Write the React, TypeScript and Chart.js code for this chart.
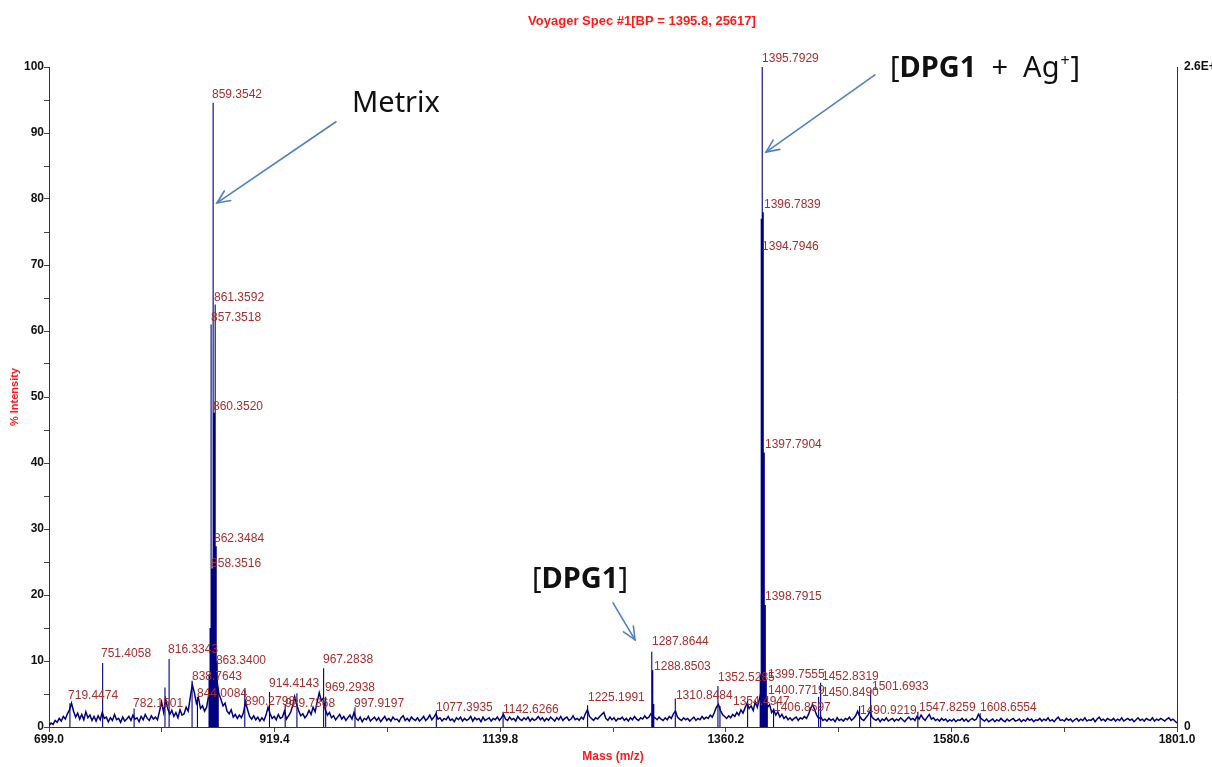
import React, { useEffect, useRef } from 'react';
import { Chart, registerables } from 'chart.js';

Chart.register(...registerables);

// ---------- axes ----------
const X_MIN = 699.0;
const X_MAX = 1801.0;
const xTickValues = [699.0, 809.2, 919.4, 1029.6, 1139.8, 1250.0, 1360.2, 1470.4, 1580.6, 1690.8, 1801.0];
const xTickLabels = ['699.0', '', '919.4', '', '1139.8', '', '1360.2', '', '1580.6', '', '1801.0'];
const yTickValues = [0, 5, 10, 15, 20, 25, 30, 35, 40, 45, 50, 55, 60, 65, 70, 75, 80, 85, 90, 95, 100];
const yTickLabels = ['0', '', '10', '', '20', '', '30', '', '40', '', '50', '', '60', '', '70', '', '80', '', '90', '', '100'];
const rightTickValues = [0, 100];
const rightTickLabels = ['0', '2.6E+4'];

const chartTitle = 'Voyager Spec #1[BP = 1395.8, 25617]';
const xTitle = 'Mass (m/z)';
const yTitle = '% Intensity';

// ---------- baseline noise (every 2 m/z from 699 to 1801) ----------
const baselineStart = 699;
const baselineStep = 2;
const baselineValues = [
  0.2, 0.6, 0.4, 1.0, 0.7, 1.3, 0.9, 1.6, 1.2, 2.0, 2.6, 3.6, 2.4, 1.5, 2.1, 1.2, 1.9, 1.1, 2.3, 1.4,
  1.8, 1.0, 1.6, 0.9, 1.7, 1.1, 2.2, 1.3, 1.5, 0.8, 1.4, 1.0, 1.9, 1.1, 1.3, 0.7, 1.5, 0.9, 1.2, 1.6,
  1.0, 1.8, 1.2, 1.4, 0.8, 1.6, 1.1, 1.9, 1.3, 1.0, 1.7, 1.2, 1.5, 1.1, 2.4, 3.8, 2.2, 4.2, 2.8, 1.9,
  2.5, 1.6, 2.2, 1.4, 2.6, 1.8, 2.0, 3.0, 2.4, 4.5, 6.4, 5.2, 3.6, 4.4, 2.8, 3.2, 2.4, 3.0, 4.8, 7.0,
  8.5, 6.5, 7.2, 5.0, 4.2, 3.2, 3.6, 2.4, 2.0, 2.6, 1.5, 1.9, 1.3, 1.8, 1.4, 2.2, 3.8, 2.6, 1.6, 1.2,
  1.7, 1.1, 1.5, 0.9, 1.4, 1.0, 1.8, 3.0, 2.0, 1.3, 1.6, 1.1, 1.9, 1.3, 1.5, 2.4, 1.2, 1.7, 2.2, 3.2,
  4.6, 3.4, 2.4, 1.7, 2.0, 1.4, 1.8, 2.5, 1.9, 3.0, 2.3, 3.8, 5.2, 4.0, 4.4, 2.6, 1.8, 2.2, 1.4, 1.7,
  1.1, 1.5, 1.9, 1.2, 1.6, 1.0, 1.4, 1.8, 1.2, 2.2, 1.3, 1.0, 1.5, 0.8, 1.3, 1.1, 1.6, 0.9, 1.2, 1.5,
  1.0, 1.4, 0.8, 1.2, 1.6, 1.0, 1.3, 0.9, 1.5, 1.1, 1.2, 0.8, 1.4, 1.7, 1.0, 1.3, 0.9, 1.5, 1.2, 1.0,
  1.4, 0.9, 1.2, 1.6, 1.0, 1.3, 1.8, 1.1, 1.5, 2.0, 1.2, 1.4, 0.9, 1.3, 1.1, 1.6, 1.0, 1.2, 0.8, 1.4,
  1.1, 1.5, 0.9, 1.3, 1.0, 1.2, 1.6, 0.9, 1.4, 1.1, 1.3, 0.8, 1.5, 1.0, 1.2, 1.4, 0.9, 1.3, 1.1, 1.5,
  1.0, 1.4, 1.9, 1.2, 1.0, 1.5, 1.1, 1.3, 0.9, 1.6, 1.2, 1.0, 1.4, 1.1, 1.5, 0.9, 1.3, 1.0, 1.2, 1.6,
  1.1, 1.4, 0.9, 1.3, 1.0, 1.5, 1.2, 0.9, 1.4, 1.1, 1.6, 1.0, 1.3, 1.5, 1.0, 1.2, 1.7, 1.1, 1.3, 1.0,
  1.5, 1.2, 2.0, 2.6, 1.6, 1.3, 1.0, 1.4, 1.2, 1.6, 1.9, 2.2, 1.3, 1.0, 1.5, 1.1, 1.4, 0.9, 1.3, 1.2,
  1.5, 1.0, 1.3, 0.9, 1.4, 1.1, 1.6, 1.2, 1.0, 1.4, 1.2, 1.7, 1.3, 1.5, 2.0, 1.6, 1.4, 1.1, 1.5, 1.2,
  1.0, 1.4, 1.1, 1.6, 1.3, 2.0, 2.4, 1.5, 1.2, 1.0, 1.4, 1.1, 1.3, 0.9, 1.2, 1.5, 1.0, 1.3, 1.1, 1.6,
  1.2, 1.5, 1.3, 1.8, 1.5, 2.2, 3.0, 3.4, 2.5, 1.9, 1.6, 1.3, 1.7, 1.4, 1.9, 1.6, 2.2, 1.8, 2.6, 2.1,
  2.9, 3.6, 2.8, 3.2, 2.5, 3.8, 3.0, 4.2, 5.5, 4.5, 3.8, 3.0, 3.4, 2.2, 2.6, 1.8, 2.3, 1.5, 1.9, 1.3,
  1.6, 1.1, 1.4, 1.0, 1.3, 1.5, 1.0, 1.4, 1.2, 1.6, 1.3, 1.9, 2.8, 3.4, 2.6, 1.8, 1.3, 1.5, 1.0, 1.2,
  0.9, 1.3, 1.0, 1.2, 0.8, 1.4, 1.0, 1.2, 0.9, 1.3, 1.1, 1.5, 1.0, 1.3, 1.7, 2.4, 1.6, 1.2, 1.0, 1.4,
  1.8, 2.4, 1.5, 1.2, 1.0, 1.3, 0.8, 1.2, 1.0, 1.4, 0.9, 1.1, 1.3, 0.9, 1.2, 1.0, 1.4, 1.1, 0.8, 1.2,
  1.5, 1.1, 1.3, 1.0, 1.6, 1.2, 1.8, 1.3, 1.0, 1.5, 1.9, 1.2, 1.4, 1.0, 1.2, 0.9, 1.3, 1.0, 1.2, 0.8,
  1.1, 0.9, 1.2, 0.8, 1.1, 1.0, 1.3, 0.9, 1.2, 0.8, 1.1, 1.3, 1.0, 1.2, 1.9, 1.4, 1.1, 0.9, 1.2, 0.8,
  1.0, 1.2, 0.8, 1.1, 0.9, 1.3, 1.0, 0.8, 1.2, 0.9, 1.1, 1.3, 0.9, 1.0, 1.2, 0.8, 1.1, 0.9, 1.3, 1.0,
  1.2, 0.8, 1.1, 1.0, 1.3, 0.9, 1.2, 1.0, 1.4, 0.9, 1.1, 0.8, 1.2, 1.5, 1.0, 1.1, 0.9, 1.3, 1.0, 1.2,
  0.8, 1.1, 1.3, 0.9, 1.2, 1.0, 1.4, 0.9, 1.1, 1.0, 1.3, 0.8, 1.2, 1.5, 1.0, 1.2, 0.9, 1.3, 1.1, 1.0,
  1.3, 0.9, 1.2, 1.0, 1.4, 0.9, 1.1, 1.3, 1.0, 1.2, 0.8, 1.1, 1.4, 1.0, 1.2, 0.9, 1.3, 1.1, 1.0, 1.4,
  0.9, 1.2, 1.0, 1.3, 1.1, 0.9, 1.2, 1.4, 1.0, 1.2, 0.9, 0.6,
];

// ---------- peaks (sticks) ----------
const peakMz = [
  719.4474, 751.4058, 782.1501, 812.3, 816.3343, 838.7643, 844.0084,
  855.35, 856.36, 857.3518, 858.3516, 859.3542, 860.352, 861.3592, 862.3484, 863.34, 864.35,
  890.2798, 914.4143, 929.7368, 941.2, 967.2838, 969.2938, 997.9197,
  1077.3935, 1142.6266, 1225.1991, 1287.8644, 1288.8503, 1289.85, 1310.8484,
  1352.5285, 1354.4947, 1381.5, 1393.8, 1394.7946, 1395.7929, 1396.7839, 1397.7904,
  1398.7915, 1399.7555, 1400.7719, 1406.8597, 1450.849, 1452.8319, 1490.9219, 1501.6933,
  1547.8259, 1608.6554,
];
const peakIntensity = [
  3.6, 9.7, 2.8, 6.0, 10.3, 7.0, 4.6,
  8.0, 15.0, 61.0, 24.0, 94.6, 47.6, 64.0, 27.4, 10.0, 6.0,
  5.6, 5.3, 3.5, 5.1, 8.9, 4.6, 3.0,
  2.5, 2.3, 3.3, 11.4, 8.6, 3.5, 4.3,
  6.2, 3.2, 4.0, 8.0, 77.0, 100.0, 78.0, 41.6,
  18.5, 7.2, 4.5, 2.8, 4.6, 6.7, 3.2, 5.6,
  2.3, 2.1,
];

// ---------- peak labels ----------
const labelText = [
  '859.3542', '861.3592', '857.3518', '860.3520', '862.3484', '858.3516', '863.3400',
  '751.4058', '719.4474', '782.1501', '816.3343', '838.7643', '844.0084', '890.2798',
  '914.4143', '929.7368', '967.2838', '969.2938', '997.9197', '1077.3935', '1142.6266',
  '1225.1991', '1287.8644', '1288.8503', '1310.8484', '1352.5285', '1354.4947',
  '1395.7929', '1396.7839', '1394.7946', '1397.7904', '1398.7915', '1399.7555', '1400.7719',
  '1406.8597', '1452.8319', '1450.8490', '1501.6933', '1490.9219', '1547.8259', '1608.6554',
];
const labelMz = [
  858.2, 860.2, 857.3, 859.2, 860.2, 857.3, 862.1,
  749.8, 717.6, 781.1, 815.3, 838.7, 843.6, 890.5,
  914.0, 929.6, 966.7, 968.6, 997.0, 1077.1, 1142.5,
  1225.6, 1288.1, 1290.1, 1311.5, 1352.6, 1367.2,
  1395.6, 1397.5, 1395.6, 1398.5, 1398.5, 1401.4, 1401.4,
  1407.3, 1454.2, 1454.2, 1503.0, 1491.3, 1548.9, 1608.5,
];
const labelIntensity = [
  95.8, 65.0, 62.0, 48.6, 28.5, 24.7, 10.0,
  11.1, 4.7, 3.6, 11.7, 7.6, 5.0, 3.9,
  6.5, 3.6, 10.2, 5.9, 3.5, 2.9, 2.6,
  4.5, 12.9, 9.2, 4.8, 7.4, 3.8,
  101.2, 79.2, 72.7, 42.7, 19.7, 8.0, 5.5,
  2.9, 7.6, 5.2, 6.1, 2.4, 2.9, 3.0,
];

// ---------- annotations ----------
const annotationNames = ['Metrix', 'DPG1+Ag', 'DPG1'];
const annotationTextMz = [995.0, 1520.6, 1170.9];
const annotationTextIntensity = [94.5, 99.8, 22.3];
const annotationParts = [
  [{ t: 'Metrix', bold: false, sup: false }],
  [
    { t: '[', bold: false, sup: false },
    { t: 'DPG1', bold: true, sup: false },
    { t: '  +  Ag', bold: false, sup: false },
    { t: '+', bold: false, sup: true },
    { t: ']', bold: false, sup: false },
  ],
  [
    { t: '[', bold: false, sup: false },
    { t: 'DPG1', bold: true, sup: false },
    { t: ']', bold: false, sup: false },
  ],
];
const arrowFromMz = [979.4, 1505.9, 1250.0];
const arrowFromIntensity = [91.7, 98.8, 18.8];
const arrowToMz = [863.1, 1399.5, 1271.5];
const arrowToIntensity = [79.4, 87.1, 13.2];

const AX_FONT = 'Arial, "Liberation Sans", sans-serif';
const ANN_FONT = '"Noto Sans", "Open Sans", sans-serif';

function drawArrow(ctx: CanvasRenderingContext2D, x1: number, y1: number, x2: number, y2: number) {
  ctx.beginPath();
  ctx.moveTo(x1, y1);
  ctx.lineTo(x2, y2);
  ctx.stroke();
  const a = Math.atan2(y2 - y1, x2 - x1);
  const L = 14;
  const w = 0.42;
  ctx.beginPath();
  ctx.moveTo(x2 - L * Math.cos(a - w), y2 - L * Math.sin(a - w));
  ctx.lineTo(x2, y2);
  ctx.lineTo(x2 - L * Math.cos(a + w), y2 - L * Math.sin(a + w));
  ctx.stroke();
}

const overlayPlugin = {
  id: 'specOverlay',
  afterDatasetsDraw(chart: any) {
    const { ctx, scales, chartArea } = chart;
    const x = scales.x;
    const y = scales.y;
    ctx.save();

    // title
    ctx.font = `bold 13px ${AX_FONT}`;
    ctx.fillStyle = '#ff1a1a';
    ctx.textAlign = 'center';
    ctx.textBaseline = 'middle';
    ctx.fillText(chartTitle, (chartArea.left + chartArea.right) / 2 + 29, 21);

    // peak labels
    ctx.font = `12px ${AX_FONT}`;
    ctx.fillStyle = '#a3302e';
    ctx.textAlign = 'left';
    ctx.textBaseline = 'middle';
    for (let i = 0; i < labelText.length; i++) {
      ctx.fillText(labelText[i], x.getPixelForValue(labelMz[i]), y.getPixelForValue(labelIntensity[i]));
    }

    // arrows
    ctx.strokeStyle = '#4f81c0';
    ctx.lineWidth = 1.6;
    ctx.lineCap = 'round';
    for (let i = 0; i < arrowFromMz.length; i++) {
      drawArrow(
        ctx,
        x.getPixelForValue(arrowFromMz[i]),
        y.getPixelForValue(arrowFromIntensity[i]),
        x.getPixelForValue(arrowToMz[i]),
        y.getPixelForValue(arrowToIntensity[i])
      );
    }

    // annotation texts
    const size = 29;
    ctx.fillStyle = '#111111';
    ctx.textBaseline = 'middle';
    ctx.textAlign = 'left';
    for (let i = 0; i < annotationNames.length; i++) {
      let px = x.getPixelForValue(annotationTextMz[i]);
      const py = y.getPixelForValue(annotationTextIntensity[i]);
      for (const part of annotationParts[i]) {
        const s = part.sup ? Math.round(size * 0.55) : size;
        ctx.font = `${part.bold ? 'bold ' : ''}${s}px ${ANN_FONT}`;
        ctx.fillText(part.t, px + (part.sup ? 1 : 0), part.sup ? py - size * 0.24 : py);
        px += ctx.measureText(part.t).width + (part.sup ? 2 : 0);
      }
    }
    ctx.restore();
  },
};

export default function App() {
  const canvasRef = useRef<HTMLCanvasElement | null>(null);

  useEffect(() => {
    document.body.style.margin = '0';
    const canvas = canvasRef.current;
    if (!canvas) return;

    const baselineData = baselineValues.map((v, i) => ({ x: baselineStart + i * baselineStep, y: v }));
    const stickData: { x: number; y: number | null }[] = [];
    peakMz.forEach((mz, i) => {
      stickData.push({ x: mz, y: 0 });
      stickData.push({ x: mz, y: peakIntensity[i] });
      stickData.push({ x: mz, y: null });
    });

    const tickFont = { family: AX_FONT, size: 12, weight: 'bold' as const };

    const chart = new Chart(canvas, {
      type: 'line',
      data: {
        datasets: [
          {
            label: 'baseline',
            data: baselineData,
            borderColor: '#000080',
            borderWidth: 1.5,
            pointRadius: 0,
            tension: 0,
          },
          {
            label: 'peaks',
            data: stickData as any,
            borderColor: '#000080',
            borderWidth: 1.1,
            pointRadius: 0,
            tension: 0,
            spanGaps: false,
          },
        ],
      },
      options: {
        animation: false,
        responsive: false,
        events: [],
        layout: { padding: { top: 67, left: 0, right: 0, bottom: 0 } },
        plugins: {
          legend: { display: false },
          tooltip: { enabled: false },
          title: { display: false },
        },
        scales: {
          x: {
            type: 'linear',
            min: X_MIN,
            max: X_MAX,
            afterBuildTicks: (s: any) => {
              s.ticks = xTickValues.map((v) => ({ value: v }));
            },
            afterFit: (s: any) => {
              s.height = 40;
            },
            ticks: {
              autoSkip: false,
              maxRotation: 0,
              padding: 0,
              color: '#111',
              font: tickFont,
              callback: (_v: any, i: number) => xTickLabels[i],
            },
            grid: { drawOnChartArea: false, tickLength: 5, tickColor: '#444', color: '#444' },
            border: { color: '#333', width: 1 },
            title: {
              display: true,
              text: xTitle,
              color: '#ff1a1a',
              font: { family: AX_FONT, size: 12, weight: 'bold' },
              padding: { top: 0, bottom: 3 },
            },
          },
          y: {
            type: 'linear',
            position: 'left',
            min: 0,
            max: 100,
            afterBuildTicks: (s: any) => {
              s.ticks = yTickValues.map((v) => ({ value: v }));
            },
            afterFit: (s: any) => {
              s.width = 49;
            },
            ticks: {
              autoSkip: false,
              padding: 0,
              color: '#111',
              font: tickFont,
              callback: (_v: any, i: number) => yTickLabels[i],
            },
            grid: { drawOnChartArea: false, tickLength: 5, tickColor: '#444', color: '#444' },
            border: { color: '#333', width: 1 },
            title: {
              display: true,
              text: yTitle,
              color: '#ff1a1a',
              font: { family: AX_FONT, size: 11, weight: 'bold' },
              padding: { top: 8, bottom: 0 },
            },
          },
          y2: {
            type: 'linear',
            position: 'right',
            min: 0,
            max: 100,
            afterBuildTicks: (s: any) => {
              s.ticks = rightTickValues.map((v) => ({ value: v }));
            },
            afterFit: (s: any) => {
              s.width = 35;
            },
            ticks: {
              autoSkip: false,
              padding: 7,
              color: '#111',
              font: tickFont,
              callback: (_v: any, i: number) => rightTickLabels[i],
            },
            grid: { drawOnChartArea: false, drawTicks: false, color: '#444' },
            border: { color: '#333', width: 1 },
          },
        },
      },
      plugins: [overlayPlugin],
    });

    return () => chart.destroy();
  }, []);

  return (
    <div style={{ width: 1212, height: 767, background: '#ffffff' }}>
      <canvas ref={canvasRef} width={1212} height={767} style={{ display: 'block' }} />
    </div>
  );
}
